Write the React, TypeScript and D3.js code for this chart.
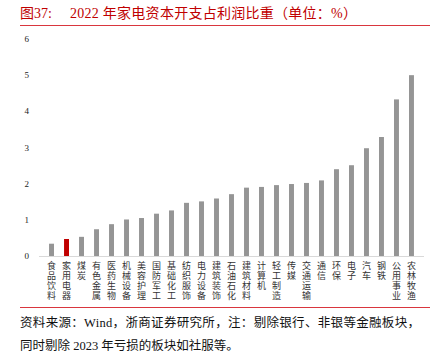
import React, { useEffect, useRef } from "react";
import * as d3 from "d3";

// 2022 年家电资本开支占利润比重（单位：%）
const categories = [
  "食品饮料", "家用电器", "煤炭", "有色金属", "医药生物", "机械设备", "美容护理",
  "国防军工", "基础化工", "纺织服饰", "电力设备", "建筑装饰", "石油石化", "建筑材料",
  "计算机", "轻工制造", "传媒", "交通运输", "通信", "环保", "电子", "汽车", "钢铁",
  "公用事业", "农林牧渔",
];
const values = [
  0.34, 0.47, 0.53, 0.74, 0.88, 1.01, 1.05, 1.17, 1.26, 1.47, 1.51, 1.59, 1.71, 1.89,
  1.91, 1.96, 1.99, 2.02, 2.09, 2.4, 2.51, 2.98, 3.29, 4.33, 5.0,
];
const highlight = "家用电器";
const yTicks = [0, 1, 2, 3, 4, 5, 6];

const W = 436;
const H = 352;
const serif = "'Liberation Serif', 'Times New Roman', 'Noto Sans CJK SC', serif";

const App = () => {
  const svgRef = useRef<SVGSVGElement>(null);

  useEffect(() => {
    const svg = d3.select(svgRef.current);
    svg.selectAll("*").remove();

    const x = d3.scaleBand().domain(categories).range([39, 424]).padding(0.67);
    const y = d3.scaleLinear().domain([0, 6]).range([256, 39]);

    // title
    svg.append("text")
      .attr("x", 20).attr("y", 17.5)
      .attr("fill", "#c00000")
      .style("font-family", serif)
      .style("font-size", "14px")
      .text("图37:");
    svg.append("text")
      .attr("x", 70).attr("y", 17.5)
      .attr("fill", "#c00000")
      .attr("textLength", 287)
      .attr("lengthAdjust", "spacing")
      .style("font-family", serif)
      .style("font-size", "14px")
      .text("2022 年家电资本开支占利润比重（单位：%）");
    svg.append("line")
      .attr("x1", 20).attr("x2", 430).attr("y1", 25.5).attr("y2", 25.5)
      .attr("stroke", "#d9363e").attr("stroke-width", 1);

    // y tick labels
    svg.append("g").selectAll("text").data(yTicks).enter().append("text")
      .attr("x", 29).attr("y", (d) => y(d) + 3)
      .attr("text-anchor", "end")
      .style("font-family", serif).style("font-size", "9px")
      .attr("fill", "#222")
      .text((d) => d);

    // baseline
    svg.append("line")
      .attr("x1", 39).attr("x2", 424).attr("y1", y(0) + 0.5).attr("y2", y(0) + 0.5)
      .attr("stroke", "#d9d9d9").attr("stroke-width", 1);

    // bars
    svg.append("g").selectAll("rect").data(values).enter().append("rect")
      .attr("x", (_, i) => x(categories[i])!)
      .attr("width", x.bandwidth())
      .attr("y", (d) => y(d))
      .attr("height", (d) => y(0) - y(d))
      .attr("fill", (_, i) => (categories[i] === highlight ? "#c00000" : "#959595"));

    // vertical category labels, one char per line
    const lbl = svg.append("g").selectAll("text").data(categories).enter().append("text")
      .style("font-family", serif).style("font-size", "9px")
      .attr("fill", "#333")
      .attr("text-anchor", "middle");
    lbl.each(function (d) {
      const t = d3.select(this);
      const cx = x(d)! + x.bandwidth() / 2;
      Array.from(d).forEach((ch, k) => {
        t.append("tspan").attr("x", cx).attr("y", 269 + k * 10).text(ch);
      });
    });

    // footer
    svg.append("line")
      .attr("x1", 20).attr("x2", 430).attr("y1", 307.5).attr("y2", 307.5)
      .attr("stroke", "#d9363e").attr("stroke-width", 1);
    svg.append("text")
      .attr("x", 20).attr("y", 327)
      .attr("textLength", 400)
      .attr("lengthAdjust", "spacing")
      .style("font-family", serif).style("font-size", "12.5px")
      .attr("fill", "#111")
      .text("资料来源：Wind，浙商证券研究所，注：剔除银行、非银等金融板块，");
    svg.append("text")
      .attr("x", 20).attr("y", 350)
      .style("font-family", serif).style("font-size", "12.5px")
      .attr("fill", "#111")
      .text("同时剔除 2023 年亏损的板块如社服等。");
  }, []);

  return (
    <svg
      ref={svgRef}
      width={W}
      height={H}
      style={{ position: "absolute", left: 0, top: 0, background: "#fff" }}
    />
  );
};

export default App;
